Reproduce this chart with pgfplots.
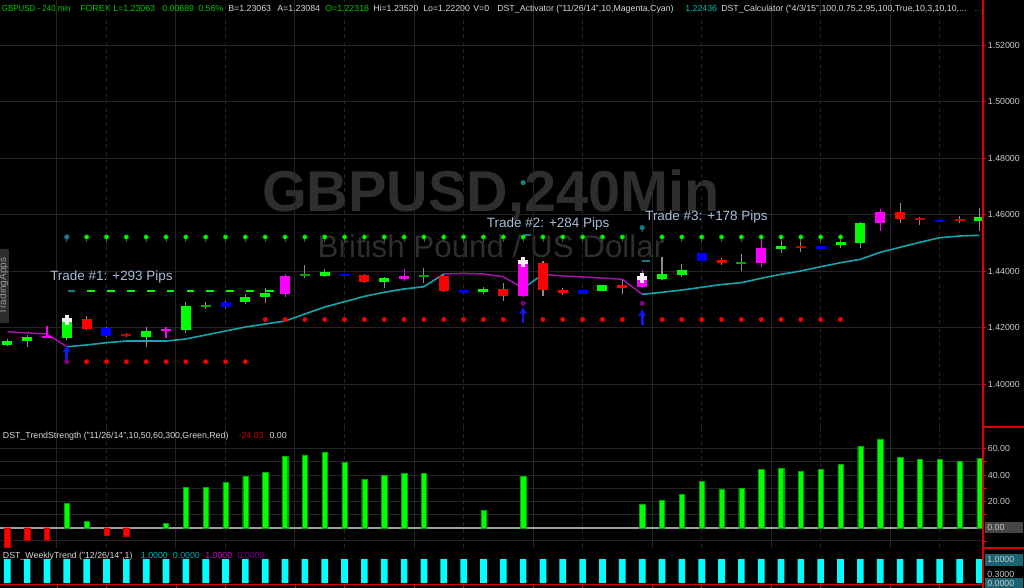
\documentclass[border=0pt]{standalone}
\usepackage{pgfplots}
\pgfplotsset{compat=1.18}
\usepackage{pgfplotstable}
\usepackage{fontspec}
\setmainfont{Liberation Sans}
\usetikzlibrary{arrows.meta}

\definecolor{cgreen}{RGB}{0,255,0}
\definecolor{cred}{RGB}{255,0,0}
\definecolor{cblue}{RGB}{0,0,255}
\definecolor{cmag}{RGB}{255,0,255}
\definecolor{dgreen}{RGB}{0,165,0}
\definecolor{dred}{RGB}{200,0,0}
\definecolor{wickc}{RGB}{140,140,140}
\definecolor{gridc}{RGB}{36,36,36}
\definecolor{gridd}{RGB}{62,62,62}
\definecolor{actc}{RGB}{20,165,175}
\definecolor{actm}{RGB}{165,20,175}
\definecolor{wm}{RGB}{46,46,46}
\definecolor{trade}{RGB}{168,190,218}
\definecolor{hdrgreen}{RGB}{0,200,0}
\definecolor{hdrtxt}{RGB}{215,215,215}
\definecolor{tealtxt}{RGB}{0,185,190}
\definecolor{labgray}{RGB}{205,205,205}
\definecolor{tealbox}{RGB}{24,100,115}
\definecolor{purp}{RGB}{128,0,128}
\definecolor{tealdot}{RGB}{20,125,140}
\definecolor{wcyan}{RGB}{0,255,255}
\definecolor{crossc}{RGB}{245,235,245}
\definecolor{arrowc}{RGB}{20,20,245}
\definecolor{stemc}{RGB}{130,75,0}

\newcommand\lab{\fontsize{6.6pt}{7.5pt}\selectfont}

\pgfplotstableread{
i lo hi L H
0 1.41381 1.41522 1.41345 1.41593
1 1.41522 1.41653 1.41320 1.41735
3 1.41639 1.42205 1.41558 1.42347
7 1.41674 1.41876 1.41299 1.42007
9 1.41922 1.42761 1.41795 1.42913
12 1.42892 1.43090 1.42832 1.43186
13 1.43069 1.43211 1.42857 1.43388
16 1.43834 1.43954 1.43788 1.44071
19 1.43621 1.43752 1.43388 1.43798
24 1.43246 1.43373 1.43186 1.43444
30 1.43303 1.43494 1.43303 1.43494
33 1.43727 1.43883 1.43681 1.44506
34 1.43848 1.44025 1.43777 1.44237
39 1.44789 1.44874 1.44627 1.45073
42 1.44910 1.45016 1.44825 1.45073
43 1.45002 1.45710 1.44825 1.45735
49 1.45759 1.45901 1.45427 1.46219
}\greentab
\pgfplotstableread{
i lo hi L H
4 1.41958 1.42290 1.41912 1.42407
18 1.43621 1.43848 1.43575 1.43894
22 1.43303 1.43812 1.43257 1.43894
25 1.43126 1.43373 1.42949 1.43565
27 1.43317 1.44273 1.43126 1.44354
28 1.43211 1.43327 1.43150 1.43388
31 1.43409 1.43494 1.43186 1.43681
36 1.44273 1.44389 1.44212 1.44450
45 1.45830 1.46088 1.45710 1.46396
}\redtab
\pgfplotstableread{
i lo hi L H
5 1.41710 1.41982 1.41681 1.42018
11 1.42736 1.42913 1.42700 1.42950
17 1.43823 1.43904 1.43823 1.43904
23 1.43232 1.43327 1.43232 1.43327
29 1.43186 1.43317 1.43186 1.43317
35 1.44354 1.44627 1.44354 1.44627
41 1.44789 1.44885 1.44789 1.44885
47 1.45735 1.45805 1.45735 1.45805
}\bluetab
\pgfplotstableread{
i lo hi L H
2 1.41644 1.41704 1.41628 1.42053
8 1.41865 1.41958 1.41639 1.42028
14 1.43186 1.43823 1.43069 1.43894
20 1.43727 1.43812 1.43646 1.44060
26 1.43126 1.44389 1.43080 1.44460
32 1.43444 1.43798 1.43398 1.44035
38 1.44273 1.44804 1.44152 1.45122
44 1.45699 1.46088 1.45427 1.46184
}\magtab
\pgfplotstableread{
i lo hi L H
10 1.42720 1.42780 1.42644 1.42913
15 1.43818 1.43878 1.43763 1.44212
21 1.43782 1.43842 1.43586 1.44096
37 1.44264 1.44324 1.44000 1.44591
}\dgtab
\pgfplotstableread{
i lo hi L H
6 1.41705 1.41765 1.41674 1.41795
40 1.44830 1.44890 1.44683 1.45016
46 1.45800 1.45860 1.45628 1.45901
48 1.45768 1.45828 1.45688 1.45947
}\drtab
\pgfplotstableread{
i y
3 1.45204
4 1.45204
5 1.45204
6 1.45204
7 1.45204
8 1.45204
9 1.45204
10 1.45204
11 1.45204
12 1.45204
13 1.45204
14 1.45204
15 1.45204
16 1.45204
17 1.45204
18 1.45204
19 1.45204
20 1.45204
21 1.45204
22 1.45204
23 1.45204
24 1.45204
25 1.45204
26 1.45204
27 1.45204
28 1.45204
29 1.45204
30 1.45204
31 1.45204
32 1.45533
33 1.45204
34 1.45204
35 1.45204
36 1.45204
37 1.45204
38 1.45204
39 1.45204
40 1.45204
41 1.45204
42 1.45204
}\stoptab

\newcommand\candles[3]{%
\addplot[draw=none, mark=none, forget plot, error bars/.cd, y dir=both, y explicit, error mark=none,
  error bar style={draw=#3, line width=0.8pt}]
  table[x=i, y expr={(\thisrow{L}+\thisrow{H})/2}, y error expr={(\thisrow{H}-\thisrow{L})/2}] {#1};
\addplot[draw=none, mark=none, forget plot, error bars/.cd, y dir=both, y explicit, error mark=none,
  error bar style={draw=#2, line width=7.5pt}]
  table[x=i, y expr={(\thisrow{lo}+\thisrow{hi})/2}, y error expr={(\thisrow{hi}-\thisrow{lo})/2}] {#1};
}

\pgfplotsset{panel/.style={scale only axis, width=737.25pt, xmin=-0.368, xmax=49.18,
  axis line style={draw=none},
  xtick={2.5,8.5,...,44.5}, xticklabels={}, xmajorgrids,
  major grid style={gridc, line width=0.75pt},
  extra x ticks={5,11,17,23,29,35,41,47}, extra x tick labels={},
  extra x tick style={grid=major, grid style={gridd, dash pattern=on 3pt off 2.5pt, line width=0.6pt}, xtick style={draw=none}},
  xtick style={draw=none},
  ytick pos=right, yticklabel pos=right,
  y tick style={red, line width=0.6pt}, major tick length=2.5pt, tick align=outside,
  yticklabel style={font=\lab, text=labgray, anchor=west, inner sep=0pt, xshift=1pt},
  ymajorgrids}}

\begin{document}
\begin{tikzpicture}[x=0.75pt, y=0.75pt]
\fill[black] (0,0) rectangle (1024,-588);
\useasboundingbox (0,0) rectangle (1024,-588);

% watermark
\node[anchor=base, text=wm, font=\fontsize{43.2pt}{44pt}\selectfont\bfseries] at (491,-211.7) {GBPUSD,240Min};
\node[anchor=base, text=wm, font=\fontsize{23.5pt}{24pt}\selectfont] at (491,-257.3) {British Pound / US Dollar};

% ---------------- price panel
\begin{axis}[panel, at={(0pt,0pt)}, anchor=north west, height=320.25pt,
  ymin=1.38478, ymax=1.53593, ytick={1.40,1.42,1.44,1.46,1.48,1.50,1.52},
  yticklabel style={/pgf/number format/fixed, /pgf/number format/fixed zerofill,
    /pgf/number format/precision=5, /pgf/number format/assume math mode=true}]
% stop-line stems
\addplot[draw=none, mark=none, forget plot, error bars/.cd, y dir=minus, y fixed=0.0017, error mark=none,
  error bar style={draw=stemc, line width=0.6pt}] table[x=i, y=y] {\stoptab};
% dots
\addplot[only marks, mark=*, mark size=1.7pt, mark options={fill=cgreen, draw=dgreen, line width=0.3pt}] coordinates {
(4,1.45204)(5,1.45204)(6,1.45204)(7,1.45204)(8,1.45204)(9,1.45204)(10,1.45204)(11,1.45204)(12,1.45204)
(13,1.45204)(14,1.45204)(15,1.45204)(16,1.45204)(17,1.45204)(18,1.45204)(19,1.45204)(20,1.45204)
(21,1.45204)(22,1.45204)(23,1.45204)(24,1.45204)(25,1.45204)(26,1.45204)(27,1.45204)(28,1.45204)
(29,1.45204)(30,1.45204)(31,1.45204)(33,1.45204)(34,1.45204)(35,1.45204)(36,1.45204)(37,1.45204)
(38,1.45204)(39,1.45204)(40,1.45204)(41,1.45204)(42,1.45204)};
\addplot[only marks, mark=*, mark size=1.7pt, mark options={fill=tealdot, draw=tealdot}] coordinates {
(3,1.45204)(26,1.47126)(32,1.45533)};
\addplot[only marks, mark=*, mark size=1.7pt, mark options={fill=cred, draw=dred, line width=0.3pt}] coordinates {
(4,1.40789)(5,1.40789)(6,1.40789)(7,1.40789)(8,1.40789)(9,1.40789)(10,1.40789)(11,1.40789)(12,1.40789)
(13,1.42283)(14,1.42283)(15,1.42283)(16,1.42283)(17,1.42283)(18,1.42283)(19,1.42283)(20,1.42283)
(21,1.42283)(22,1.42283)(23,1.42283)(24,1.42283)(25,1.42283)(27,1.42283)(28,1.42283)
(29,1.42283)(30,1.42283)(31,1.42283)(33,1.42283)(34,1.42283)(35,1.42283)(36,1.42283)(37,1.42283)
(38,1.42283)(39,1.42283)(40,1.42283)(41,1.42283)(42,1.42283)};
\addplot[only marks, mark=*, mark size=1.7pt, mark options={fill=purp, draw=purp}] coordinates {
(3,1.40789)(26,1.42857)(32,1.42857)};
% dashes
\addplot[only marks, mark=-, mark size=2.9pt, mark options={draw=cgreen, line width=1.5pt}] coordinates {
(4.23,1.43292)(5.23,1.43292)(6.23,1.43292)(7.23,1.43292)(8.23,1.43292)(9.23,1.43292)(10.23,1.43292)
(11.23,1.43292)(12.23,1.43292)(13.23,1.43292)};
\addplot[only marks, mark=-, mark size=2.9pt, mark options={draw=tealdot, line width=1.5pt}] coordinates {
(3.23,1.43292)(26.22,1.45274)(32.2,1.44354)};
% activator line
\addplot[actm, line width=1.1pt] coordinates {(0,1.41851)(1,1.41810)(2,1.41770)(3,1.41320)};
\addplot[actc, line width=1.2pt] coordinates {(3,1.41320)(4,1.41381)(5,1.41462)(6,1.41522)(7,1.41522)(8,1.41522)
(9,1.41593)(10,1.41735)(11,1.41876)(12,1.42018)(13,1.42124)(14,1.42230)(15,1.42478)(16,1.42726)(17,1.42913)
(18,1.43104)(19,1.43246)(20,1.43363)(21,1.43444)(22,1.43894)};
\addplot[actm, line width=1.1pt] coordinates {(22,1.43894)(23,1.43919)(24,1.43894)(25,1.43798)(26,1.43388)};
\addplot[actc, line width=1.2pt] coordinates {(26,1.43388)(27,1.43883)};
\addplot[actm, line width=1.1pt] coordinates {(27,1.43883)(28,1.43823)(29,1.43788)(30,1.43752)(31,1.43706)(32,1.43175)};
\addplot[actc, line width=1.2pt] coordinates {(32,1.43175)(33,1.43246)(34,1.43327)(35,1.43423)(36,1.43522)(37,1.43586)
(38,1.43742)(39,1.43883)(40,1.44000)(41,1.44152)(42,1.44294)(43,1.44414)(44,1.44662)(45,1.44839)(46,1.45016)
(47,1.45179)(48,1.45239)(49,1.45264)};
% candles
\candles{\greentab}{cgreen}{wickc}
\candles{\redtab}{cred}{wickc}
\candles{\bluetab}{cblue}{wickc}
\candles{\magtab}{cmag}{cmag}
\candles{\dgtab}{dgreen}{wickc}
\candles{\drtab}{dred}{wickc}
% entry crosses
\addplot[only marks, mark=+, mark size=3.7pt, mark options={draw=crossc, line width=2.7pt}] coordinates {
(3,1.42265)(26,1.44329)(32,1.43742)};
% arrows
\addplot[arrowc, line width=2pt, -{Latex[length=5pt,width=6.5pt]}, quiver={u=0, v=\thisrow{v}}] table {
x y v
3 1.40779 0.00602
26 1.42159 0.00567
32 1.42088 0.00567
};
\end{axis}

% ---------------- trend strength panel
\begin{axis}[panel, at={(0pt,-320.25pt)}, anchor=north west, height=90.75pt,
  ymin=-15.4, ymax=76.5, ytick={20,40,60}, minor ytick={-10,10,30,50}, yminorgrids,
  minor grid style={gridc, line width=0.75pt},
  yticklabel style={/pgf/number format/fixed, /pgf/number format/fixed zerofill,
    /pgf/number format/precision=2, /pgf/number format/assume math mode=true}]
\draw[gray!75, line width=1.25pt] (axis cs:-0.368,0) -- (axis cs:49.18,0);
\addplot[ybar, bar width=4pt, bar shift=0pt, fill=cgreen, draw=dgreen, line width=0.3pt] coordinates {
(3,18.5)(4,4.6)(8,3.3)(9,30.9)(10,30.9)(11,34.7)(12,39)(13,42.3)(14,54.2)(15,55.4)(16,57.2)(17,49.7)
(18,36.7)(19,39.8)(20,41.5)(21,41.5)(24,13.4)(26,39)(32,18.2)(33,20.8)(34,25.4)(35,35.2)(36,29.6)
(37,30.1)(38,44.1)(39,45.3)(40,42.8)(41,44.6)(42,47.9)(43,61.8)(44,67.4)(45,53.5)(46,52.2)(47,51.7)
(48,50.4)(49,52.9)};
\addplot[ybar, bar width=4pt, bar shift=0pt, fill=cred, draw=dred, line width=0.3pt] coordinates {
(0,-15)(1,-9.4)(2,-9.4)(5,-5.5)(6,-6.8)};
\end{axis}

% ---------------- weekly trend panel
\begin{axis}[scale only axis, width=737.25pt, height=30pt, at={(0pt,-411pt)}, anchor=north west,
  xmin=-0.368, xmax=49.18, ymin=-0.208, ymax=1.458, hide axis]
\addplot[ybar, bar width=5pt, bar shift=0pt, fill=wcyan, draw=none] coordinates {
(0,1)(1,1)(2,1)(3,1)(4,1)(5,1)(6,1)(7,1)(8,1)(9,1)(10,1)(11,1)(12,1)(13,1)(14,1)(15,1)(16,1)(17,1)
(18,1)(19,1)(20,1)(21,1)(22,1)(23,1)(24,1)(25,1)(26,1)(27,1)(28,1)(29,1)(30,1)(31,1)(32,1)(33,1)
(34,1)(35,1)(36,1)(37,1)(38,1)(39,1)(40,1)(41,1)(42,1)(43,1)(44,1)(45,1)(46,1)(47,1)(48,1)(49,1)};
\end{axis}

% frame lines
\draw[red!85!black, line width=0.8pt] (0,-584.5) -- (983,-584.5);
\foreach \k in {2.5,5,8.5,11,14.5,17,20.5,23,26.5,29,32.5,35,38.5,41,44.5,47}
  \draw[red!85!black, line width=0.6pt] ({7.3+19.84*\k},-584.5) -- ({7.3+19.84*\k},-588);
\draw[red!90!black, line width=0.9pt] (983,0) -- (983,-588);
\draw[red!90!black, line width=0.8pt] (983,-427) -- (1024,-427);
\draw[red!90!black, line width=0.8pt] (983,-548) -- (1024,-548);

% right labels for 0 and weekly
\fill[gray!55!black] (984.7,-522) rectangle (1022.7,-533.3);
\node[anchor=base west, inner sep=0, font=\lab, text=labgray] at (987,-530.3) {0.00};
\node[anchor=base west, inner sep=0, font=\lab, text=labgray] at (987,-577.5) {0.3000};
\fill[tealbox] (984.7,-554.3) rectangle (1022.7,-565.7);
\node[anchor=base west, inner sep=0, font=\lab, text=labgray] at (987,-562.6) {1.0000};
\fill[tealbox] (984.7,-578.3) rectangle (1022.7,-588);
\node[anchor=base west, inner sep=0, font=\lab, text=labgray] at (987,-586.2) {0.0000};

% header
\begin{scope}[every node/.style={anchor=base west, inner sep=0, font=\lab}]
\node[text=hdrgreen] at (1.7,-11.5) {\scalebox{0.9}[1]{GBPUSD - 240 min}};
\node[text=hdrgreen] at (80,-11.5) {FOREX};
\node[text=hdrgreen] at (113,-11.5) {L=1.23063};
\node[text=hdrgreen] at (162,-11.5) {0.00689};
\node[text=hdrgreen] at (198,-11.5) {0.56\%};
\node[text=hdrtxt] at (228,-11.5) {B=1.23063};
\node[text=hdrtxt] at (277,-11.5) {A=1.23084};
\node[text=hdrgreen] at (325,-11.5) {O=1.22318};
\node[text=hdrtxt] at (373,-11.5) {Hi=1.23520};
\node[text=hdrtxt] at (423,-11.5) {Lo=1.22200};
\node[text=hdrtxt] at (473,-11.5) {V=0};
\node[text=hdrtxt] at (497,-11.5) {DST\_Activator ("11/26/14",10,Magenta,Cyan)};
\node[text=tealtxt] at (685,-11.5) {1.22436};
\node[text=hdrtxt] at (721,-11.5) {DST\_Calculator ("4/3/15",100,0.75,2,95,100,True,10,3,10,10,...};
\node[text=green!55!black] at (974,-11.5) {...};
% trend label
\node[text=hdrtxt] at (2.7,-438) {DST\_TrendStrength ("11/26/14",10,50,60,300,Green,Red)};
\node[text=red!80!black] at (238.3,-438) {-24.03};
\node[text=hdrtxt] at (269.3,-438) {0.00};
% weekly label
\node[text=hdrtxt] at (2.7,-558.5) {DST\_WeeklyTrend ("12/26/14",1)};
\node[text=tealtxt] at (140.7,-558.5) {1.0000};
\node[text=actc] at (172.7,-558.5) {0.0000};
\node[text=cmag!80!black] at (205,-558.5) {1.0000};
\node[text=purp!90!blue] at (237.3,-558.5) {0.0000};
% trade labels
\node[text=trade, font=\fontsize{10.1pt}{12pt}\selectfont] at (50,-280.7) {Trade \#1: +293 Pips};
\node[text=trade, font=\fontsize{10.1pt}{12pt}\selectfont] at (486.7,-227.7) {Trade \#2: +284 Pips};
\node[text=trade, font=\fontsize{10.1pt}{12pt}\selectfont] at (645,-220) {Trade \#3: +178 Pips};
\end{scope}

% TradingApps tab
\fill[gray!35!black] (0,-249) rectangle (9,-323);
\begin{scope}
\clip (0,-249) rectangle (9,-323);
\node[rotate=90, font=\fontsize{7.5pt}{8pt}\selectfont, text=gray!80, inner sep=0] at (3.5,-286) {TradingApps};
\end{scope}
\end{tikzpicture}
\end{document}
